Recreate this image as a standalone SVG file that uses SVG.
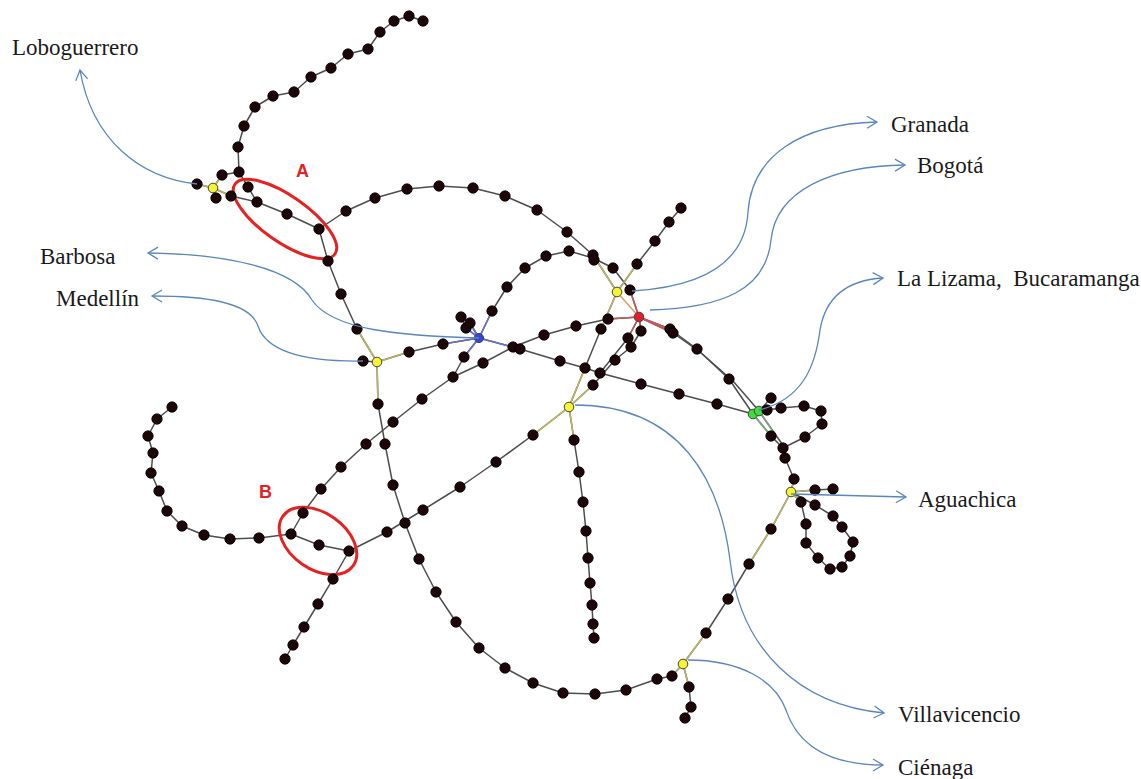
<svg xmlns="http://www.w3.org/2000/svg" width="1141" height="779" viewBox="0 0 1141 779">
  <defs>
    <marker id="open-arrow" markerUnits="userSpaceOnUse" markerWidth="16" markerHeight="16" refX="12" refY="8" orient="auto">
      <path d="M2,2 L12,8 L2,14" fill="none" stroke="#5a86bd" stroke-width="1.3"/>
    </marker>
  </defs>
  <style>
    .edge { fill: none; stroke: #4d4d4d; stroke-width: 1.5; stroke-linejoin: round; }
    .ey { fill: none; stroke: #b9b46a; stroke-width: 1.6; }
    .er { fill: none; stroke: #c65a5a; stroke-width: 1.6; }
    .eo { fill: none; stroke: #e0a060; stroke-width: 1.6; }
    .eb { fill: none; stroke: #6a72c4; stroke-width: 1.6; }
    .eg { fill: none; stroke: #7fa77f; stroke-width: 1.6; }
    .node circle { fill: #1c0608; stroke: #000; stroke-width: 0.8; }
    .hub circle { stroke: #444; stroke-width: 1; }
    .yellow circle { fill: #f4f430; }
    .red circle { fill: #e41e26; }
    .blue circle { fill: #3446d8; }
    .green circle { fill: #3fdc3f; }
    .callout { fill: none; stroke: #5a86bd; stroke-width: 1.3; marker-end: url(#open-arrow); }
    .label { font-family: "Liberation Serif", "Times New Roman", serif; font-size: 23px; fill: #1a1a1a; }
    .ring { fill: none; stroke: #e42222; stroke-width: 3; }
    .tag { font-family: "Liberation Sans", Arial, sans-serif; font-weight: bold; font-size: 18px; fill: #e42222; }
  </style>
  <rect width="1141" height="779" fill="#fff"/>

  <!-- network edges -->
  <g id="connectors">
    <polyline class="edge" points="423,21 409,16 394,21 380,32 368,49 348,54 331,68 311,77 294,92 273,96 255,107 244,126 238,147 239,172"/>
    <polyline class="edge" points="239,172 222,175 213,188"/>
    <polyline class="edge" points="197,184 213,188"/>
    <polyline class="edge" points="239,172 248,187 257,202"/>
    <polyline class="edge" points="213,188 231,196 257,202"/>
    <polyline class="edge" points="213,188 216,198"/>
    <polyline class="edge" points="257,202 287,214 319,229"/>
    <polyline class="edge" points="319,229 346,211 375,198 407,189 439,186 473,188 505,196 537,210 567,232 593,255 617,292"/>
    <polyline class="edge" points="319,229 328,261 341,294 357,329 377,362"/>
    <polyline class="edge" points="363,361 377,362"/>
    <polyline class="edge" points="377,362 409,352 443,344 479,338"/>
    <polyline class="edge" points="479,338 466,328 461,317"/>
    <polyline class="edge" points="479,338 470,323"/>
    <polyline class="edge" points="479,338 492,311 507,287 525,268 546,256 569,251 593,258 613,268 630,290 639,317"/>
    <polyline class="edge" points="479,338 464,357 453,377"/>
    <polyline class="edge" points="291,534 303,513 321,489 341,467 366,444 393,422 422,399 453,377 483,363 513,347 544,335 576,326 608,319 639,317"/>
    <polyline class="edge" points="479,338 520,349 560,361 585,368 600,373 641,384 679,394 717,404 753,414"/>
    <polyline class="edge" points="617,292 601,329 585,368 569,407"/>
    <polyline class="edge" points="639,317 641,331 631,347 615,360 593,385 569,407"/>
    <polyline class="edge" points="639,317 628,338 600,373"/>
    <polyline class="edge" points="617,292 637,264 655,241 669,222 681,208"/>
    <polyline class="edge" points="639,317 670,329 697,349 729,379 753,414"/>
    <polyline class="edge" points="639,317 673,333 700,352 733,381 759,411"/>
    <polyline class="edge" points="753,414 759,411 771,398"/>
    <polyline class="edge" points="759,411 767,410 781,408 804,406 821,411 822,424 805,437 783,448"/>
    <polyline class="edge" points="753,414 771,436 783,448 785,458 794,479 791,492"/>
    <polyline class="edge" points="759,411 775,434 785,448"/>
    <polyline class="edge" points="791,492 815,490 833,489"/>
    <polyline class="edge" points="791,492 801,502 806,524 806,543 818,558 830,569 842,567 850,556 853,542 842,527 833,516 815,505 791,492"/>
    <polyline class="edge" points="791,492 771,529 749,564 728,599 706,633 683,664"/>
    <polyline class="edge" points="377,362 378,404 385,444 393,485 405,523 419,559 436,592 456,622 479,648 505,668 533,683 563,693 595,694 626,690 657,679 672,676 683,664"/>
    <polyline class="edge" points="683,664 689,687 691,707 685,718"/>
    <polyline class="edge" points="569,407 574,440 579,472 583,502 586,531 588,558 590,583 592,605 593,624 594,638"/>
    <polyline class="edge" points="569,407 533,435 496,462 460,487 423,510 387,532 349,551"/>
    <polyline class="edge" points="172,407 157,419 148,436 153,453 151,473 159,491 167,511 182,526 204,535 230,539 259,538 291,534 319,545 349,551"/>
    <polyline class="edge" points="349,551 333,579 318,604 304,627 293,645 285,659"/>

    <!-- tinted segments next to the coloured hubs -->
    <path class="ey" d="M213,188 L222,175 M213,188 L197,184 M213,188 L216,198 M213,188 L231,196 M617,292 L593,255 M617,292 L601,329 M617,292 L637,264 M377,362 L357,329 M377,362 L409,352 M377,362 L378,404 M569,407 L585,368 M569,407 L593,385 M569,407 L574,440 M569,407 L533,435 M791,492 L794,479 M791,492 L815,490 M791,492 L801,502 M791,492 L771,529 L749,564 M683,664 L706,633 M683,664 L672,676 M683,664 L689,687"/>
    <path class="eo" d="M617,292 L639,317"/>
    <path class="er" d="M639,317 L630,290 M639,317 L608,319 M639,317 L641,331 M639,317 L628,338 M639,317 L670,329 M639,317 L673,333"/>
    <path class="eb" d="M479,338 L443,344 M479,338 L466,328 M479,338 L470,323 M479,338 L492,311 M479,338 L464,357 M479,338 L520,349"/>
    <path class="eg" d="M753,414 L771,436 M759,411 L775,434 M759,411 L767,410"/>
  </g>

  <!-- highlighted sections -->
  <g id="section-a">
    <ellipse class="ring" cx="285" cy="219" rx="61" ry="23" transform="rotate(35 285 219)"/>
    <text class="tag" x="296" y="177">A</text>
  </g>
  <g id="section-b">
    <ellipse class="ring" cx="318" cy="541" rx="43" ry="28" transform="rotate(35 318 541)"/>
    <text class="tag" x="259" y="498">B</text>
  </g>

  <!-- coloured hubs -->
  <g id="hub-loboguerrero" class="node hub yellow"><circle cx="213" cy="188" r="4.8"/></g>
  <g id="hub-medellin" class="node hub yellow"><circle cx="377" cy="362" r="4.8"/></g>
  <g id="hub-barbosa" class="node hub blue"><circle cx="479" cy="338" r="4.6"/></g>
  <g id="hub-granada" class="node hub yellow"><circle cx="617" cy="292" r="4.8"/></g>
  <g id="hub-bogota" class="node hub red"><circle cx="639" cy="317" r="4.8"/></g>
  <g id="hub-villavicencio" class="node hub yellow"><circle cx="569" cy="407" r="4.8"/></g>
  <g id="hub-lizama" class="node hub green"><circle cx="753" cy="414" r="4.8"/></g>
  <g id="hub-bucaramanga" class="node hub green"><circle cx="759" cy="411" r="4.8"/></g>
  <g id="hub-aguachica" class="node hub yellow"><circle cx="791" cy="492" r="4.8"/></g>
  <g id="hub-cienaga" class="node hub yellow"><circle cx="683" cy="664" r="4.8"/></g>

  <!-- plain stations -->
  <g id="s001" class="node"><circle cx="423" cy="21" r="5.2"/></g>
  <g id="s002" class="node"><circle cx="409" cy="16" r="5.2"/></g>
  <g id="s003" class="node"><circle cx="394" cy="21" r="5.2"/></g>
  <g id="s004" class="node"><circle cx="380" cy="32" r="5.2"/></g>
  <g id="s005" class="node"><circle cx="368" cy="49" r="5.2"/></g>
  <g id="s006" class="node"><circle cx="348" cy="54" r="5.2"/></g>
  <g id="s007" class="node"><circle cx="331" cy="68" r="5.2"/></g>
  <g id="s008" class="node"><circle cx="311" cy="77" r="5.2"/></g>
  <g id="s009" class="node"><circle cx="294" cy="92" r="5.2"/></g>
  <g id="s010" class="node"><circle cx="273" cy="96" r="5.2"/></g>
  <g id="s011" class="node"><circle cx="255" cy="107" r="5.2"/></g>
  <g id="s012" class="node"><circle cx="244" cy="126" r="5.2"/></g>
  <g id="s013" class="node"><circle cx="238" cy="147" r="5.2"/></g>
  <g id="s014" class="node"><circle cx="239" cy="172" r="5.2"/></g>
  <g id="s015" class="node"><circle cx="222" cy="175" r="5.2"/></g>
  <g id="s016" class="node"><circle cx="197" cy="184" r="5.2"/></g>
  <g id="s017" class="node"><circle cx="216" cy="198" r="5.2"/></g>
  <g id="s018" class="node"><circle cx="231" cy="196" r="5.2"/></g>
  <g id="s019" class="node"><circle cx="248" cy="187" r="5.2"/></g>
  <g id="s020" class="node"><circle cx="257" cy="202" r="5.2"/></g>
  <g id="s021" class="node"><circle cx="287" cy="214" r="5.2"/></g>
  <g id="s022" class="node"><circle cx="319" cy="229" r="5.2"/></g>
  <g id="s023" class="node"><circle cx="346" cy="211" r="5.2"/></g>
  <g id="s024" class="node"><circle cx="375" cy="198" r="5.2"/></g>
  <g id="s025" class="node"><circle cx="407" cy="189" r="5.2"/></g>
  <g id="s026" class="node"><circle cx="439" cy="186" r="5.2"/></g>
  <g id="s027" class="node"><circle cx="473" cy="188" r="5.2"/></g>
  <g id="s028" class="node"><circle cx="505" cy="196" r="5.2"/></g>
  <g id="s029" class="node"><circle cx="537" cy="210" r="5.2"/></g>
  <g id="s030" class="node"><circle cx="567" cy="232" r="5.2"/></g>
  <g id="s031" class="node"><circle cx="593" cy="255" r="5.2"/></g>
  <g id="s032" class="node"><circle cx="328" cy="261" r="5.2"/></g>
  <g id="s033" class="node"><circle cx="341" cy="294" r="5.2"/></g>
  <g id="s034" class="node"><circle cx="357" cy="329" r="5.2"/></g>
  <g id="s035" class="node"><circle cx="363" cy="361" r="5.2"/></g>
  <g id="s036" class="node"><circle cx="409" cy="352" r="5.2"/></g>
  <g id="s037" class="node"><circle cx="443" cy="344" r="5.2"/></g>
  <g id="s038" class="node"><circle cx="466" cy="328" r="5.2"/></g>
  <g id="s039" class="node"><circle cx="461" cy="317" r="5.2"/></g>
  <g id="s040" class="node"><circle cx="470" cy="323" r="5.2"/></g>
  <g id="s041" class="node"><circle cx="492" cy="311" r="5.2"/></g>
  <g id="s042" class="node"><circle cx="507" cy="287" r="5.2"/></g>
  <g id="s043" class="node"><circle cx="525" cy="268" r="5.2"/></g>
  <g id="s044" class="node"><circle cx="546" cy="256" r="5.2"/></g>
  <g id="s045" class="node"><circle cx="569" cy="251" r="5.2"/></g>
  <g id="s046" class="node"><circle cx="594" cy="260" r="5.2"/></g>
  <g id="s047" class="node"><circle cx="613" cy="268" r="5.2"/></g>
  <g id="s048" class="node"><circle cx="630" cy="290" r="5.2"/></g>
  <g id="s049" class="node"><circle cx="464" cy="357" r="5.2"/></g>
  <g id="s050" class="node"><circle cx="291" cy="534" r="5.2"/></g>
  <g id="s051" class="node"><circle cx="303" cy="513" r="5.2"/></g>
  <g id="s052" class="node"><circle cx="321" cy="489" r="5.2"/></g>
  <g id="s053" class="node"><circle cx="341" cy="467" r="5.2"/></g>
  <g id="s054" class="node"><circle cx="366" cy="444" r="5.2"/></g>
  <g id="s055" class="node"><circle cx="393" cy="422" r="5.2"/></g>
  <g id="s056" class="node"><circle cx="422" cy="399" r="5.2"/></g>
  <g id="s057" class="node"><circle cx="453" cy="377" r="5.2"/></g>
  <g id="s058" class="node"><circle cx="483" cy="363" r="5.2"/></g>
  <g id="s059" class="node"><circle cx="513" cy="347" r="5.2"/></g>
  <g id="s060" class="node"><circle cx="544" cy="335" r="5.2"/></g>
  <g id="s061" class="node"><circle cx="576" cy="326" r="5.2"/></g>
  <g id="s062" class="node"><circle cx="608" cy="319" r="5.2"/></g>
  <g id="s063" class="node"><circle cx="520" cy="349" r="5.2"/></g>
  <g id="s064" class="node"><circle cx="560" cy="361" r="5.2"/></g>
  <g id="s065" class="node"><circle cx="585" cy="368" r="5.2"/></g>
  <g id="s066" class="node"><circle cx="600" cy="373" r="5.2"/></g>
  <g id="s067" class="node"><circle cx="641" cy="384" r="5.2"/></g>
  <g id="s068" class="node"><circle cx="679" cy="394" r="5.2"/></g>
  <g id="s069" class="node"><circle cx="717" cy="404" r="5.2"/></g>
  <g id="s070" class="node"><circle cx="601" cy="329" r="5.2"/></g>
  <g id="s071" class="node"><circle cx="641" cy="331" r="5.2"/></g>
  <g id="s072" class="node"><circle cx="631" cy="347" r="5.2"/></g>
  <g id="s073" class="node"><circle cx="615" cy="360" r="5.2"/></g>
  <g id="s074" class="node"><circle cx="593" cy="385" r="5.2"/></g>
  <g id="s075" class="node"><circle cx="628" cy="338" r="5.2"/></g>
  <g id="s076" class="node"><circle cx="637" cy="264" r="5.2"/></g>
  <g id="s077" class="node"><circle cx="655" cy="241" r="5.2"/></g>
  <g id="s078" class="node"><circle cx="669" cy="222" r="5.2"/></g>
  <g id="s079" class="node"><circle cx="681" cy="208" r="5.2"/></g>
  <g id="s080" class="node"><circle cx="670" cy="329" r="5.2"/></g>
  <g id="s081" class="node"><circle cx="673" cy="333" r="5.2"/></g>
  <g id="s082" class="node"><circle cx="697" cy="349" r="5.2"/></g>
  <g id="s083" class="node"><circle cx="729" cy="379" r="5.2"/></g>
  <g id="s084" class="node"><circle cx="771" cy="398" r="5.2"/></g>
  <g id="s085" class="node"><circle cx="767" cy="410" r="5.2"/></g>
  <g id="s086" class="node"><circle cx="781" cy="408" r="5.2"/></g>
  <g id="s087" class="node"><circle cx="804" cy="406" r="5.2"/></g>
  <g id="s088" class="node"><circle cx="821" cy="411" r="5.2"/></g>
  <g id="s089" class="node"><circle cx="822" cy="424" r="5.2"/></g>
  <g id="s090" class="node"><circle cx="805" cy="437" r="5.2"/></g>
  <g id="s091" class="node"><circle cx="783" cy="448" r="5.2"/></g>
  <g id="s092" class="node"><circle cx="771" cy="436" r="5.2"/></g>
  <g id="s093" class="node"><circle cx="785" cy="458" r="5.2"/></g>
  <g id="s094" class="node"><circle cx="794" cy="479" r="5.2"/></g>
  <g id="s095" class="node"><circle cx="815" cy="490" r="5.2"/></g>
  <g id="s096" class="node"><circle cx="833" cy="489" r="5.2"/></g>
  <g id="s097" class="node"><circle cx="801" cy="502" r="5.2"/></g>
  <g id="s098" class="node"><circle cx="806" cy="524" r="5.2"/></g>
  <g id="s099" class="node"><circle cx="806" cy="543" r="5.2"/></g>
  <g id="s100" class="node"><circle cx="818" cy="558" r="5.2"/></g>
  <g id="s101" class="node"><circle cx="830" cy="569" r="5.2"/></g>
  <g id="s102" class="node"><circle cx="842" cy="567" r="5.2"/></g>
  <g id="s103" class="node"><circle cx="850" cy="556" r="5.2"/></g>
  <g id="s104" class="node"><circle cx="853" cy="542" r="5.2"/></g>
  <g id="s105" class="node"><circle cx="842" cy="527" r="5.2"/></g>
  <g id="s106" class="node"><circle cx="833" cy="516" r="5.2"/></g>
  <g id="s107" class="node"><circle cx="815" cy="505" r="5.2"/></g>
  <g id="s108" class="node"><circle cx="771" cy="529" r="5.2"/></g>
  <g id="s109" class="node"><circle cx="749" cy="564" r="5.2"/></g>
  <g id="s110" class="node"><circle cx="728" cy="599" r="5.2"/></g>
  <g id="s111" class="node"><circle cx="706" cy="633" r="5.2"/></g>
  <g id="s112" class="node"><circle cx="378" cy="404" r="5.2"/></g>
  <g id="s113" class="node"><circle cx="385" cy="444" r="5.2"/></g>
  <g id="s114" class="node"><circle cx="393" cy="485" r="5.2"/></g>
  <g id="s115" class="node"><circle cx="405" cy="523" r="5.2"/></g>
  <g id="s116" class="node"><circle cx="419" cy="559" r="5.2"/></g>
  <g id="s117" class="node"><circle cx="436" cy="592" r="5.2"/></g>
  <g id="s118" class="node"><circle cx="456" cy="622" r="5.2"/></g>
  <g id="s119" class="node"><circle cx="479" cy="648" r="5.2"/></g>
  <g id="s120" class="node"><circle cx="505" cy="668" r="5.2"/></g>
  <g id="s121" class="node"><circle cx="533" cy="683" r="5.2"/></g>
  <g id="s122" class="node"><circle cx="563" cy="693" r="5.2"/></g>
  <g id="s123" class="node"><circle cx="595" cy="694" r="5.2"/></g>
  <g id="s124" class="node"><circle cx="626" cy="690" r="5.2"/></g>
  <g id="s125" class="node"><circle cx="657" cy="679" r="5.2"/></g>
  <g id="s126" class="node"><circle cx="672" cy="676" r="5.2"/></g>
  <g id="s127" class="node"><circle cx="689" cy="687" r="5.2"/></g>
  <g id="s128" class="node"><circle cx="691" cy="707" r="5.2"/></g>
  <g id="s129" class="node"><circle cx="685" cy="718" r="5.2"/></g>
  <g id="s130" class="node"><circle cx="574" cy="440" r="5.2"/></g>
  <g id="s131" class="node"><circle cx="579" cy="472" r="5.2"/></g>
  <g id="s132" class="node"><circle cx="583" cy="502" r="5.2"/></g>
  <g id="s133" class="node"><circle cx="586" cy="531" r="5.2"/></g>
  <g id="s134" class="node"><circle cx="588" cy="558" r="5.2"/></g>
  <g id="s135" class="node"><circle cx="590" cy="583" r="5.2"/></g>
  <g id="s136" class="node"><circle cx="592" cy="605" r="5.2"/></g>
  <g id="s137" class="node"><circle cx="593" cy="624" r="5.2"/></g>
  <g id="s138" class="node"><circle cx="594" cy="638" r="5.2"/></g>
  <g id="s139" class="node"><circle cx="533" cy="435" r="5.2"/></g>
  <g id="s140" class="node"><circle cx="496" cy="462" r="5.2"/></g>
  <g id="s141" class="node"><circle cx="460" cy="487" r="5.2"/></g>
  <g id="s142" class="node"><circle cx="423" cy="510" r="5.2"/></g>
  <g id="s143" class="node"><circle cx="387" cy="532" r="5.2"/></g>
  <g id="s144" class="node"><circle cx="349" cy="551" r="5.2"/></g>
  <g id="s145" class="node"><circle cx="172" cy="407" r="5.2"/></g>
  <g id="s146" class="node"><circle cx="157" cy="419" r="5.2"/></g>
  <g id="s147" class="node"><circle cx="148" cy="436" r="5.2"/></g>
  <g id="s148" class="node"><circle cx="153" cy="453" r="5.2"/></g>
  <g id="s149" class="node"><circle cx="151" cy="473" r="5.2"/></g>
  <g id="s150" class="node"><circle cx="159" cy="491" r="5.2"/></g>
  <g id="s151" class="node"><circle cx="167" cy="511" r="5.2"/></g>
  <g id="s152" class="node"><circle cx="182" cy="526" r="5.2"/></g>
  <g id="s153" class="node"><circle cx="204" cy="535" r="5.2"/></g>
  <g id="s154" class="node"><circle cx="230" cy="539" r="5.2"/></g>
  <g id="s155" class="node"><circle cx="259" cy="538" r="5.2"/></g>
  <g id="s156" class="node"><circle cx="319" cy="545" r="5.2"/></g>
  <g id="s157" class="node"><circle cx="333" cy="579" r="5.2"/></g>
  <g id="s158" class="node"><circle cx="318" cy="604" r="5.2"/></g>
  <g id="s159" class="node"><circle cx="304" cy="627" r="5.2"/></g>
  <g id="s160" class="node"><circle cx="293" cy="645" r="5.2"/></g>
  <g id="s161" class="node"><circle cx="285" cy="659" r="5.2"/></g>

  <!-- city call-outs -->
  <g id="callouts">
    <path class="callout" d="M197,184 C140,178 92,140 80,70"/>
    <path class="callout" d="M479,338 C400,336 332,330 312,300 C292,266 220,254 148,253"/>
    <path class="callout" d="M363,361 C300,362 266,350 258,326 C250,302 205,296 152,296"/>
    <path class="callout" d="M632,291 C700,287 745,265 748,212 C752,156 800,124 877,122"/>
    <path class="callout" d="M650,310 C722,308 766,290 771,240 C776,190 832,166 905,165"/>
    <path class="callout" d="M759,410 C800,400 815,370 820,330 C826,294 850,280 883,278"/>
    <path class="callout" d="M791,494 L906,497"/>
    <path class="callout" d="M575,405 C680,405 720,480 730,560 C740,650 800,705 884,713"/>
    <path class="callout" d="M688,660 C740,660 775,680 786,710 C800,752 840,765 883,765"/>
  </g>

  <g id="labels">
    <text class="label" x="12" y="55">Loboguerrero</text>
    <text class="label" x="40" y="264">Barbosa</text>
    <text class="label" x="56" y="306">Medellín</text>
    <text class="label" x="891" y="132">Granada</text>
    <text class="label" x="917" y="173">Bogotá</text>
    <text class="label" x="897" y="286" xml:space="preserve">La Lizama,  Bucaramanga</text>
    <text class="label" x="918" y="507">Aguachica</text>
    <text class="label" x="898" y="722">Villavicencio</text>
    <text class="label" x="898" y="775">Ciénaga</text>
  </g>
</svg>
